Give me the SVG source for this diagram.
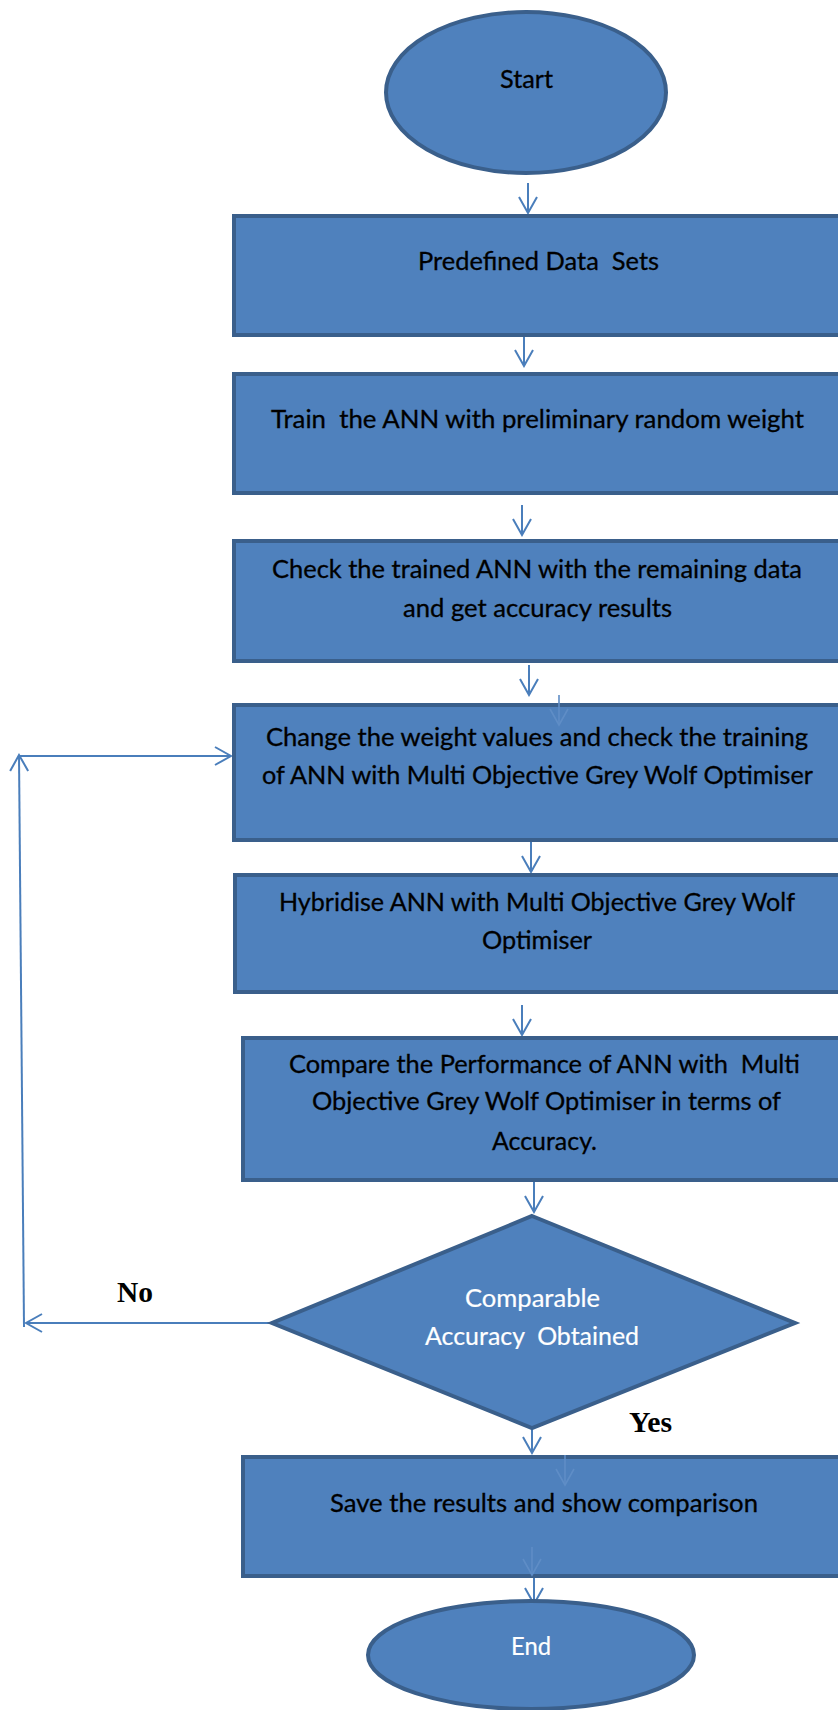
<svg xmlns="http://www.w3.org/2000/svg" width="838" height="1710" viewBox="0 0 838 1710">
  <style>
    .shape { fill: #4F81BD; stroke: #3A5F8B; stroke-width: 4; }
    .lbl { font-family: Lato, "Open Sans", sans-serif; font-size: 25px; fill: #000000; stroke: #000000; stroke-width: 0.3; }
    .lbl.inv { fill: #FFFFFF; stroke: #FFFFFF; stroke-width: 0.2; }
    .yn { font-family: "Liberation Serif", "Times New Roman", serif; font-size: 29px; font-weight: bold; fill: #000000; }
    .conn { fill: none; stroke: #4A7EBB; stroke-width: 2; }
    .ghost { fill: none; stroke: #5F8DC6; stroke-width: 1.6; }
  </style>
  <defs>
    <marker id="vhead" viewBox="-18 -11 20 22" refX="0" refY="0" markerWidth="20" markerHeight="22" markerUnits="userSpaceOnUse" orient="auto">
      <path d="M-16,-9 L0,0 L-16,9" fill="none" stroke="#4A7EBB" stroke-width="2"/>
    </marker>
    <marker id="vghost" viewBox="-18 -11 20 22" refX="0" refY="0" markerWidth="20" markerHeight="22" markerUnits="userSpaceOnUse" orient="auto">
      <path d="M-16,-9 L0,0 L-16,9" fill="none" stroke="#5F8DC6" stroke-width="1.6"/>
    </marker>
  </defs>

  <rect width="838" height="1710" fill="#FFFFFF"/>

  <!-- connectors -->
  <g id="connectors">
    <line class="conn" x1="528" y1="183" x2="528" y2="213" marker-end="url(#vhead)"/>
    <line class="conn" x1="524" y1="336" x2="524" y2="366" marker-end="url(#vhead)"/>
    <line class="conn" x1="522" y1="505" x2="522" y2="535" marker-end="url(#vhead)"/>
    <line class="conn" x1="529" y1="665" x2="529" y2="695" marker-end="url(#vhead)"/>
    <line class="conn" x1="531" y1="842" x2="531" y2="872" marker-end="url(#vhead)"/>
    <line class="conn" x1="522" y1="1005" x2="522" y2="1035" marker-end="url(#vhead)"/>
    <line class="conn" x1="534" y1="1182" x2="534" y2="1212" marker-end="url(#vhead)"/>
    <line class="conn" x1="532" y1="1430" x2="532" y2="1453" marker-end="url(#vhead)"/>
    <line class="conn" x1="534" y1="1578" x2="534" y2="1604" marker-end="url(#vhead)"/>
    <!-- "No" loop back to the weight-update step -->
    <line class="conn" x1="270" y1="1323" x2="26" y2="1323" marker-end="url(#vhead)"/>
    <line class="conn" x1="24" y1="1327" x2="19" y2="755" marker-end="url(#vhead)"/>
    <line class="conn" x1="19" y1="756" x2="231" y2="756" marker-end="url(#vhead)"/>
  </g>

  <g id="start">
    <ellipse class="shape" cx="526" cy="92.5" rx="140" ry="80.5"/>
    <text class="lbl" x="500" y="88" textLength="53" lengthAdjust="spacingAndGlyphs">Start</text>
  </g>

  <g id="data-sets">
    <rect class="shape" x="234" y="216" width="620" height="119"/>
    <text class="lbl" x="418" y="270" textLength="241" lengthAdjust="spacingAndGlyphs">Predefined Data&#160; Sets</text>
  </g>

  <g id="train">
    <rect class="shape" x="234" y="374" width="620" height="119"/>
    <text class="lbl" x="271" y="428" textLength="533" lengthAdjust="spacingAndGlyphs">Train&#160; the ANN with preliminary random weight</text>
  </g>

  <g id="check">
    <rect class="shape" x="234" y="541" width="620" height="120"/>
    <text class="lbl" x="272" y="578" textLength="530" lengthAdjust="spacingAndGlyphs">Check the trained ANN with the remaining data</text>
    <text class="lbl" x="403" y="617" textLength="269" lengthAdjust="spacingAndGlyphs">and get accuracy results</text>
  </g>

  <g id="change-weights">
    <rect class="shape" x="234" y="705" width="620" height="135"/>
    <line class="ghost" x1="559" y1="695" x2="559" y2="725" marker-end="url(#vghost)"/>
    <text class="lbl" x="266" y="746" textLength="542" lengthAdjust="spacingAndGlyphs">Change the weight values and check the training</text>
    <text class="lbl" x="262" y="784" textLength="551" lengthAdjust="spacingAndGlyphs">of ANN with Multi Objective Grey Wolf Optimiser</text>
  </g>

  <g id="hybridise">
    <rect class="shape" x="235" y="875" width="620" height="117"/>
    <text class="lbl" x="279" y="911" textLength="516" lengthAdjust="spacingAndGlyphs">Hybridise ANN with Multi Objective Grey Wolf</text>
    <text class="lbl" x="482" y="949" textLength="110" lengthAdjust="spacingAndGlyphs">Optimiser</text>
  </g>

  <g id="compare">
    <rect class="shape" x="243" y="1038" width="620" height="142"/>
    <text class="lbl" x="289" y="1073" textLength="511" lengthAdjust="spacingAndGlyphs">Compare the Performance of ANN with&#160; Multi</text>
    <text class="lbl" x="312" y="1110" textLength="469" lengthAdjust="spacingAndGlyphs">Objective Grey Wolf Optimiser in terms of</text>
    <text class="lbl" x="492" y="1150" textLength="105" lengthAdjust="spacingAndGlyphs">Accuracy.</text>
  </g>

  <g id="decision">
    <polygon class="shape" points="532,1216 795,1323 532,1428 272,1323"/>
    <text class="lbl inv" x="465" y="1307" textLength="135" lengthAdjust="spacingAndGlyphs">Comparable</text>
    <text class="lbl inv" x="425" y="1345" textLength="214" lengthAdjust="spacingAndGlyphs">Accuracy&#160; Obtained</text>
  </g>

  <g id="label-no">
    <text class="yn" x="117" y="1302" textLength="36" lengthAdjust="spacingAndGlyphs">No</text>
  </g>
  <g id="label-yes">
    <text class="yn" x="629" y="1432" textLength="43" lengthAdjust="spacingAndGlyphs">Yes</text>
  </g>

  <g id="save">
    <rect class="shape" x="243" y="1457" width="620" height="119"/>
    <line class="ghost" x1="565" y1="1455" x2="565" y2="1485" marker-end="url(#vghost)"/>
    <line class="ghost" x1="532" y1="1547" x2="532" y2="1575" marker-end="url(#vghost)"/>
    <text class="lbl" x="330" y="1512" textLength="428" lengthAdjust="spacingAndGlyphs">Save the results and show comparison</text>
  </g>

  <g id="end">
    <ellipse class="shape" cx="531" cy="1655" rx="163" ry="54"/>
    <text class="lbl inv" x="511" y="1655" textLength="40" lengthAdjust="spacingAndGlyphs">End</text>
  </g>
</svg>
